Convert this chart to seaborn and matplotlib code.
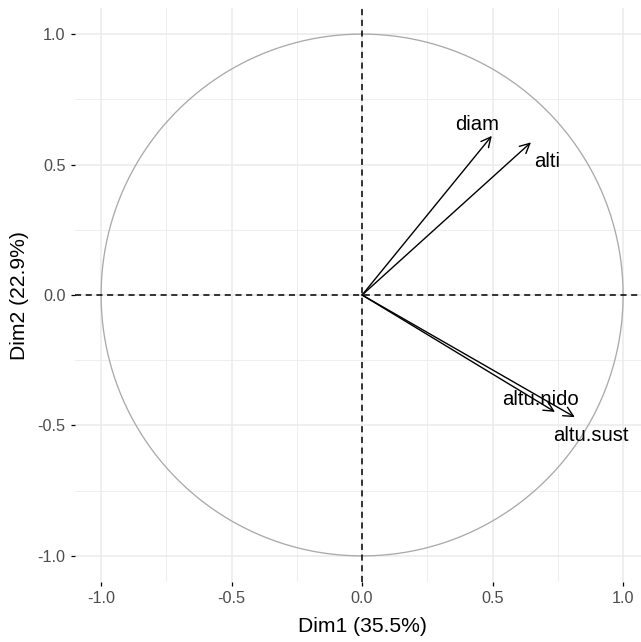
import numpy as np
import pandas as pd
import matplotlib
matplotlib.use("Agg")
import matplotlib.pyplot as plt
import seaborn as sns

# Data: variable coordinates on Dim1 / Dim2
variables = ["diam", "alti", "altu.nido", "altu.sust"]
dim1 = [0.497, 0.647, 0.739, 0.815]
dim2 = [0.610, 0.585, -0.448, -0.468]
# label positions
label_x = [0.441, 0.709, 0.682, 0.877]
label_y = [0.655, 0.510, -0.402, -0.540]

xlabel = "Dim1 (35.5%)"
ylabel = "Dim2 (22.9%)"
ticks = [-1.0, -0.5, 0.0, 0.5, 1.0]
tick_labels = ["-1.0", "-0.5", "0.0", "0.5", "1.0"]
minor_ticks = [-0.75, -0.25, 0.25, 0.75]

sns.set_theme(style="white")
plt.rcParams["font.family"] = ["Liberation Sans", "DejaVu Sans"]

fig = plt.figure(figsize=(6.41, 6.42), dpi=100)
W, H = 641, 642
ax = fig.add_axes([75 / W, 60 / H, 566 / W, 574 / H])
ax.set_facecolor("white")
for s in ax.spines.values():
    s.set_visible(False)

# correlation circle
theta = np.linspace(0, 2 * np.pi, 400)
circle = pd.DataFrame({"x": np.cos(theta), "y": np.sin(theta), "i": np.arange(400)})
sns.lineplot(data=circle, x="x", y="y", sort=False, estimator=None, color="#AAAAAA",
             lw=0.95, ax=ax, zorder=2)

# dashed axes
ax.axhline(0, color="black", lw=1.1, ls=(0, (4, 3)), zorder=3)
ax.axvline(0, color="black", lw=1.1, ls=(0, (4, 3)), zorder=3)

# arrows
df = pd.DataFrame({"var": variables, "d1": dim1, "d2": dim2, "lx": label_x, "ly": label_y})
for _, r in df.iterrows():
    ax.annotate("", xy=(r.d1, r.d2), xytext=(0, 0),
                arrowprops=dict(arrowstyle="->,head_length=0.5,head_width=0.25",
                                color="black", lw=1.0, shrinkA=0, shrinkB=0,
                                mutation_scale=14),
                zorder=4)
    ax.text(r.lx, r.ly, r["var"], ha="center", va="center", fontsize=14.6,
            color="black", zorder=5)

ax.set_xlim(-1.1, -1.1 + 566 / 261)
ax.set_ylim(-1.1, 1.1)
ax.set_aspect("auto")

ax.set_xticks(ticks)
ax.set_xticklabels(tick_labels)
ax.set_yticks(ticks)
ax.set_yticklabels(tick_labels)
ax.set_xticks(minor_ticks, minor=True)
ax.set_yticks(minor_ticks, minor=True)
ax.grid(True, which="major", color="#EBEBEB", lw=1.1, zorder=0)
ax.grid(True, which="minor", color="#EBEBEB", lw=0.6, zorder=0)
ax.set_axisbelow(True)
ax.tick_params(axis="both", which="major", length=3.2, width=0.9, color="black",
               labelsize=11.7, labelcolor="#4D4D4D", pad=3.5, bottom=True, left=True)
ax.tick_params(axis="both", which="minor", length=0)

ax.set_xlabel(xlabel, fontsize=15.2, color="black")
ax.set_ylabel(ylabel, fontsize=15.2, color="black")
ax.xaxis.set_label_coords((362 - 75) / 566, (582 - 626) / 574)
ax.yaxis.set_label_coords((20 - 75) / 566, (582 - 296) / 574)
ax.xaxis.label.set_va("center")
ax.yaxis.label.set_va("center")

fig.savefig("out.png", dpi=100, facecolor="white")
